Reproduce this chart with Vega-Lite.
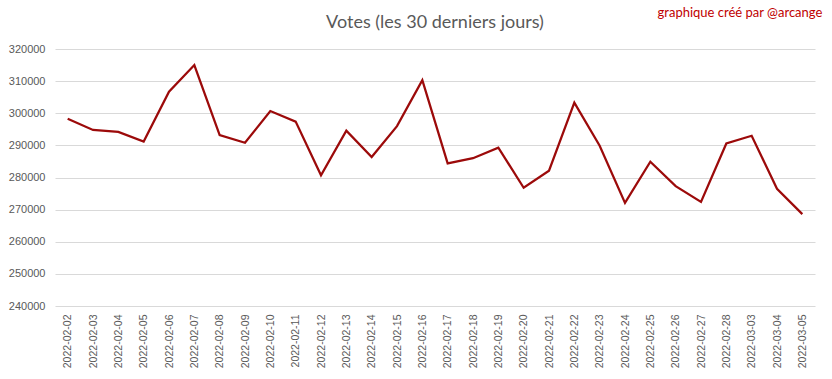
{
  "$schema": "https://vega.github.io/schema/vega-lite/v6.json",
  "width": 760,
  "height": 257,
  "autosize": "none",
  "padding": {"left": 55, "top": 49, "right": 17, "bottom": 73},
  "background": "white",
  "title": {
    "text": "Votes (les 30 derniers jours)",
    "font": "Lato",
    "fontSize": 18,
    "fontWeight": "normal",
    "color": "#595959",
    "anchor": "middle",
    "offset": -25
  },
  "datasets": {
    "votes": [
      {"date": "2022-02-02", "votes": 298300},
      {"date": "2022-02-03", "votes": 294800},
      {"date": "2022-02-04", "votes": 294200},
      {"date": "2022-02-05", "votes": 291200},
      {"date": "2022-02-06", "votes": 306700},
      {"date": "2022-02-07", "votes": 315000},
      {"date": "2022-02-08", "votes": 293200},
      {"date": "2022-02-09", "votes": 290800},
      {"date": "2022-02-10", "votes": 300700},
      {"date": "2022-02-11", "votes": 297400},
      {"date": "2022-02-12", "votes": 280700},
      {"date": "2022-02-13", "votes": 294600},
      {"date": "2022-02-14", "votes": 286400},
      {"date": "2022-02-15", "votes": 296000},
      {"date": "2022-02-16", "votes": 310300},
      {"date": "2022-02-17", "votes": 284400},
      {"date": "2022-02-18", "votes": 286000},
      {"date": "2022-02-19", "votes": 289300},
      {"date": "2022-02-20", "votes": 276800},
      {"date": "2022-02-21", "votes": 282100},
      {"date": "2022-02-22", "votes": 303300},
      {"date": "2022-02-23", "votes": 289900},
      {"date": "2022-02-24", "votes": 272100},
      {"date": "2022-02-25", "votes": 284900},
      {"date": "2022-02-26", "votes": 277300},
      {"date": "2022-02-27", "votes": 272400},
      {"date": "2022-02-28", "votes": 290600},
      {"date": "2022-03-03", "votes": 293000},
      {"date": "2022-03-04", "votes": 276500},
      {"date": "2022-03-05", "votes": 268600}
    ],
    "credit": [
      {"label": "graphique créé par @arcange", "date": "2022-03-05", "votes": 331200}
    ]
  },
  "encoding": {
    "x": {
      "field": "date",
      "type": "ordinal",
      "scale": {"type": "point", "padding": 0.5},
      "axis": {
        "title": null,
        "labelAngle": -90,
        "labelFont": "Liberation Sans",
        "labelFontSize": 10.5,
        "labelColor": "#595959",
        "labelPadding": 8,
        "ticks": false,
        "domain": false,
        "grid": false
      }
    },
    "y": {
      "field": "votes",
      "type": "quantitative",
      "scale": {"domain": [240000, 320000], "nice": false, "zero": false},
      "axis": {
        "title": null,
        "values": [240000, 250000, 260000, 270000, 280000, 290000, 300000, 310000, 320000],
        "format": "d",
        "labelOverlap": false,
        "labelFont": "Liberation Sans",
        "labelFontSize": 11,
        "labelColor": "#595959",
        "labelPadding": 10,
        "ticks": false,
        "domain": false,
        "grid": true,
        "gridColor": "#d9d9d9",
        "gridWidth": 1
      }
    }
  },
  "layer": [
    {
      "data": {"name": "votes"},
      "mark": {"type": "line", "color": "#9C0A0A", "strokeWidth": 2.25}
    },
    {
      "data": {"name": "credit"},
      "mark": {"type": "text", "align": "right", "baseline": "middle", "dx": 20, "font": "Lato", "fontSize": 13, "color": "#C00000"},
      "encoding": {
        "text": {"field": "label"}
      }
    }
  ],
  "config": {"view": {"stroke": null}}
}
